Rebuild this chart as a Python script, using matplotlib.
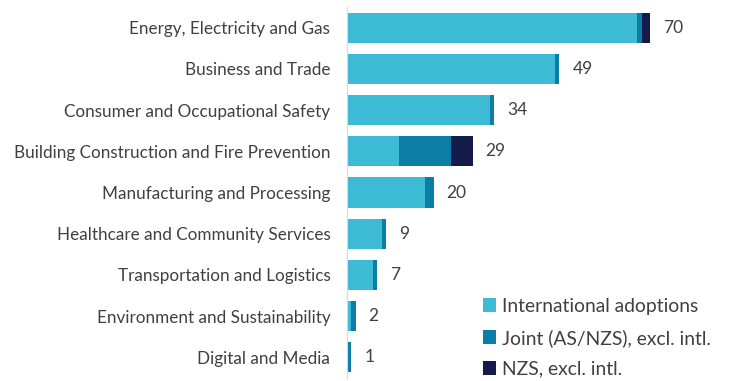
import matplotlib.pyplot as plt
import numpy as np

plt.rcParams['font.family'] = ['Lato', 'DejaVu Sans']

categories = ['Energy, Electricity and Gas', 'Business and Trade',
              'Consumer and Occupational Safety',
              'Building Construction and Fire Prevention',
              'Manufacturing and Processing',
              'Healthcare and Community Services',
              'Transportation and Logistics',
              'Environment and Sustainability', 'Digital and Media']
intl = [67, 48, 33, 12, 18, 8, 6, 1, 0]
joint = [1, 1, 1, 12, 2, 1, 1, 1, 1]
nzs = [2, 0, 0, 5, 0, 0, 0, 0, 0]
totals = [70, 49, 34, 29, 20, 9, 7, 2, 1]
series_names = ['International adoptions', 'Joint (AS/NZS), excl. intl.',
                'NZS, excl. intl.']
colors = ['#3DBBD5', '#0B7DA6', '#141A4A']

W, H = 748, 381
fig = plt.figure(figsize=(W / 100, H / 100), dpi=100)
ax = fig.add_axes([347 / W, 1 - 378 / H, 390 / W, 371 / H])

y = np.arange(len(categories))
intl = np.array(intl)
joint = np.array(joint)
nzs = np.array(nzs)
h = 0.73
ax.barh(y, intl, height=h, color=colors[0], label=series_names[0])
ax.barh(y, joint, left=intl, height=h, color=colors[1], label=series_names[1])
ax.barh(y, nzs, left=intl + joint, height=h, color=colors[2], label=series_names[2])

# total labels to the right of each bar
for yi, t in zip(y, totals):
    ax.text(t + 3, yi, str(t), va='center', ha='left', fontsize=12.5, color='#404040')

ax.set_xlim(0, 90)
ax.set_ylim(len(categories) - 0.5, -0.5)
ax.set_yticks(y)
ax.set_yticklabels(categories, fontsize=12.3, color='#404040')
ax.tick_params(axis='y', length=0, pad=12)
ax.set_xticks([])
for s in ['top', 'right', 'bottom']:
    ax.spines[s].set_visible(False)
ax.spines['left'].set_color('#d9d9d9')

fig.legend(loc='upper left', bbox_to_anchor=(479 / W, 1 - 294 / H), frameon=False,
           fontsize=13.9, handlelength=0.7, handleheight=0.7, handletextpad=0.3,
           labelspacing=0.72, labelcolor='#404040', borderaxespad=0, borderpad=0.2)

fig.savefig('out.png', dpi=100)
